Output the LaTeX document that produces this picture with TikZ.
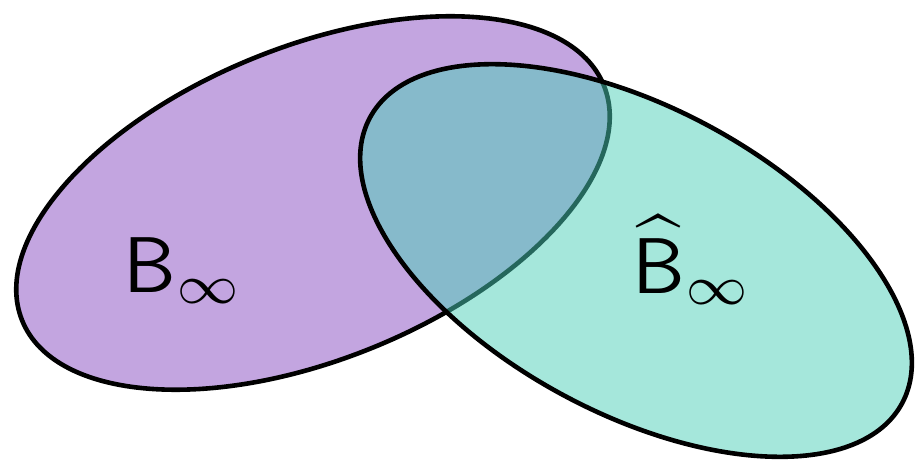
\documentclass[tikz,border=0pt]{standalone}
\usepackage{amsmath}
\definecolor{lavender}{RGB}{195,165,224}
\definecolor{tealfill}{RGB}{75,207,184}
\tikzset{
  setline/.style={line width=4.6pt},
  setlabel/.style={inner sep=0pt, scale=7.9, anchor=base west, font=\normalsize},
}
\begin{document}
\begin{tikzpicture}[x=1pt,y=1pt]
\useasboundingbox (0,0) rectangle (916,461);
% first set
\fill[lavender, shift={(313,258)}, rotate=22] (0,0) ellipse [x radius=313.7pt, y radius=156.5pt];
\draw[setline, shift={(313,258)}, rotate=22] (0,0) ellipse [x radius=313.7pt, y radius=156.5pt];
% second set, semi-transparent fill
\fill[tealfill, fill opacity=0.5, shift={(636,200.5)}, rotate=-28.2] (0,0) ellipse [x radius=302pt, y radius=153pt];
\draw[setline, shift={(636,200.5)}, rotate=-28.2] (0,0) ellipse [x radius=302pt, y radius=153pt];
% labels
\node[setlabel] (binf) at (122,169) {$\mathsf{B}_\infty$};
\node[setlabel] (bhat) at (631,168) {$\widehat{\mathsf{B}}_\infty$};
\end{tikzpicture}
\end{document}
